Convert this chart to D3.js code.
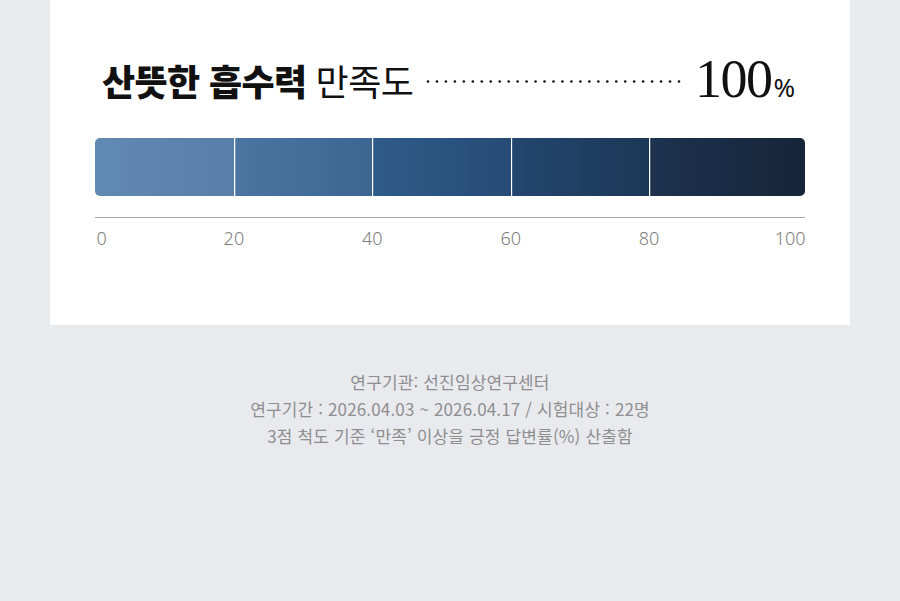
<!DOCTYPE html>
<html lang="ko">
<head>
<meta charset="utf-8">
<script src="https://cdn.jsdelivr.net/npm/d3@7"></script>
<style>
  html, body { margin: 0; padding: 0; background: #e9eaee; }
  svg { display: block; }
</style>
</head>
<body>
<svg id="chart" width="900" height="601"></svg>
<script>
// Chart data
let titleBold = "산뜻한 흡수력"
let titleLight = "만족도"
let score = 100
let segments = [20, 20, 20, 20, 20]
let ticks = [0, 20, 40, 60, 80, 100]
let segColours = [
  ["#6089b3", "#587ea9"],
  ["#4c74a0", "#3d6592"],
  ["#2f5b89", "#264b76"],
  ["#23466f", "#1c3756"],
  ["#1c324e", "#16253a"]
]
let notes = [
  "연구기관: 선진임상연구센터",
  "연구기간 : 2026.04.03 ~ 2026.04.17 / 시험대상 : 22명",
  "3점 척도 기준 ‘만족’ 이상을 긍정 답변률(%) 산출함"
]

let width = 900
let height = 601
let kr = "'Noto Sans CJK KR', 'Noto Sans', sans-serif"

let svg = d3.select("#chart")
let defs = svg.append("defs")

// white card
svg.append("rect")
  .attr("x", 50).attr("y", 0)
  .attr("width", 800).attr("height", 325)
  .attr("fill", "#ffffff")

// Title line
let title = svg.append("text")
  .attr("x", 102).attr("y", 96)
  .attr("font-family", kr)
  .attr("font-size", 36)
  .attr("letter-spacing", -0.6)
  .attr("fill", "#111")
title.append("tspan").attr("font-weight", 900).text(titleBold)
title.append("tspan").attr("font-weight", 400).attr("dx", 9).text(titleLight)

// dotted leader
let dotX = d3.scaleLinear().domain([0, 28]).range([428, 679])
svg.append("g").selectAll("circle")
  .data(d3.range(29))
  .enter().append("circle")
  .attr("cx", (d) => dotX(d))
  .attr("cy", 81.5)
  .attr("r", 1.3)
  .attr("fill", "#111")

let big = svg.append("text")
  .attr("x", 795).attr("y", 97)
  .attr("text-anchor", "end")
  .attr("fill", "#111")
big.append("tspan")
  .attr("font-family", "'Liberation Serif', 'DejaVu Serif', serif")
  .attr("font-size", 54)
  .attr("letter-spacing", -1.5)
  .text(score)
big.append("tspan")
  .attr("font-family", "'Noto Sans', sans-serif")
  .attr("font-size", 26)
  .attr("dx", 2)
  .text("%")

// Bar
let barLeft = 95, barRight = 805, barTop = 138, barH = 58
let x = d3.scaleLinear().domain([0, 100]).range([97, 789])

let clip = defs.append("clipPath").attr("id", "barclip")
clip.append("rect")
  .attr("x", barLeft).attr("y", barTop)
  .attr("width", barRight - barLeft).attr("height", barH)
  .attr("rx", 5)

let stacked = []
let acc = 0
segments.forEach((v, i) => {
  stacked.push({ i: i, x0: acc, x1: acc + v })
  acc += v
})

stacked.forEach((d) => {
  let g = defs.append("linearGradient")
    .attr("id", "seg" + d.i)
    .attr("x1", "0%").attr("x2", "100%")
  g.append("stop").attr("offset", "0%").attr("stop-color", segColours[d.i][0])
  g.append("stop").attr("offset", "100%").attr("stop-color", segColours[d.i][1])
})

function segLeft(d) { return d.i == 0 ? barLeft : x(d.x0) }
function segRight(d) { return d.i == stacked.length - 1 ? barRight : x(d.x1) }

svg.append("g").attr("clip-path", "url(#barclip)")
  .selectAll("rect")
  .data(stacked)
  .enter().append("rect")
  .attr("x", (d) => segLeft(d))
  .attr("y", barTop)
  .attr("width", (d) => segRight(d) - segLeft(d))
  .attr("height", barH)
  .attr("fill", (d) => "url(#seg" + d.i + ")")

// white separators, snapped to the pixel grid so they stay crisp
svg.append("g").selectAll("line")
  .data(stacked.slice(1))
  .enter().append("line")
  .attr("x1", (d) => Math.round(x(d.x0) - 1.5) + 0.5)
  .attr("x2", (d) => Math.round(x(d.x0) - 1.5) + 0.5)
  .attr("y1", barTop).attr("y2", barTop + barH)
  .attr("stroke", "#ffffff")
  .attr("stroke-width", 1)
  .attr("shape-rendering", "crispEdges")

// Axis
let axis = svg.append("g").attr("transform", "translate(0,217)")
  .call(d3.axisBottom(x).tickValues(ticks).tickSize(0).tickPadding(0))
axis.select(".domain").remove()
axis.append("line")
  .attr("x1", barLeft).attr("x2", barRight)
  .attr("y1", 0.5).attr("y2", 0.5)
  .attr("stroke", "#a8a8a8").attr("stroke-width", 1)
axis.selectAll(".tick text")
  .attr("y", 28)
  .attr("dy", 0)
  .attr("font-family", "'Noto Sans', sans-serif")
  .attr("font-weight", 300)
  .attr("font-size", 18)
  .attr("fill", "#7c7c7c")
  .attr("text-anchor", (d) => d == 0 ? "start" : (d == 100 ? "end" : "middle"))
  .attr("dx", (d) => d == 0 ? (barLeft - x(0) + 1) : (d == 100 ? (barRight - x(100)) : -2))

// Footnotes
svg.append("g").selectAll("text")
  .data(notes)
  .enter().append("text")
  .attr("x", width / 2)
  .attr("y", (d, i) => 389 + i * 27)
  .attr("text-anchor", "middle")
  .attr("font-family", kr)
  .attr("font-size", 17)
  .attr("letter-spacing", 0.15)
  .attr("fill", "#8e8e90")
  .text((d) => d)
</script>
</body>
</html>
